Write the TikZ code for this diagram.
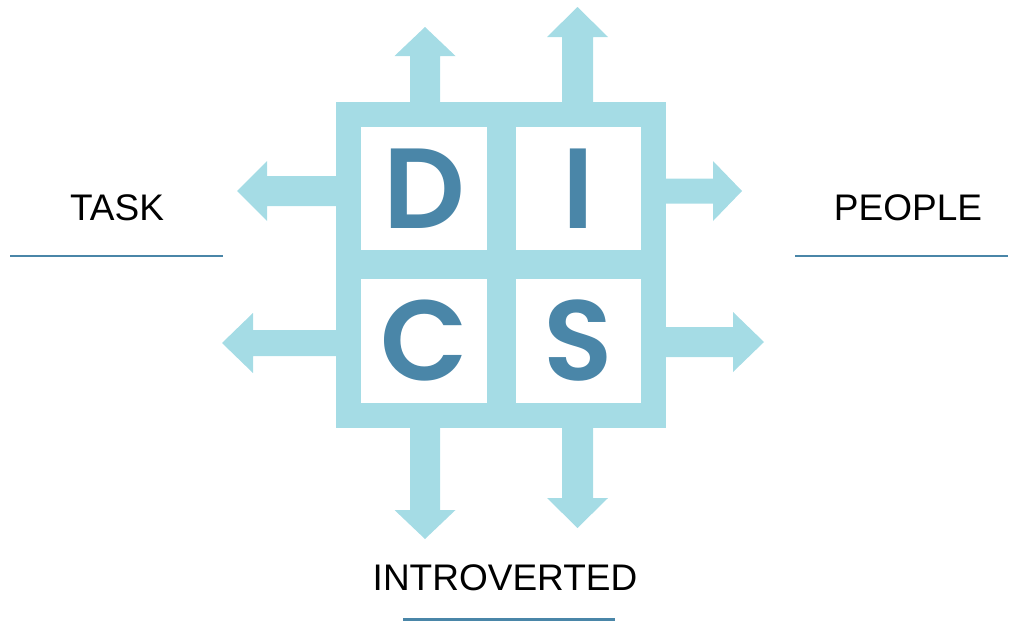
\documentclass[tikz,border=0pt]{standalone}
\usepackage{fontspec}
\setmainfont{Liberation Sans}
\newfontfamily\discfont{Poppins SemiBold}
\definecolor{discsky}{HTML}{A5DCE5}
\definecolor{discblue}{HTML}{4A86A8}
\tikzset{
    cell/.style={fill=white, inner sep=0pt, text=discblue, font=\discfont\fontsize{114}{114}\selectfont},
    label/.style={inner sep=0pt, font=\fontsize{37}{37}\selectfont},
    rule/.style={discblue, line width=2.5pt}
}
\begin{document}
\begin{tikzpicture}[x=1pt, y=-1pt]

            % the frame
            \useasboundingbox (0, 0) rectangle (1009, 621);
            \fill[discsky] (336, 102) rectangle (666, 428);

            % the arrows, up and down
            \foreach \c/\s/\h/\a/\b/\t in {425/15/30.5/102/56/27, 577.5/15.5/30.5/102/37/7, 425/15/30.5/428/510/539, 577.5/15.5/30.5/428/498/528} {
                \fill[discsky] ({\c-\s}, \a) -- ({\c-\s}, \b) -- ({\c-\h}, \b) -- (\c, \t) -- ({\c+\h}, \b) -- ({\c+\s}, \b) -- ({\c+\s}, \a) -- cycle;
            };

            % the arrows, left and right
            \foreach \c/\s/\h/\a/\b/\t in {191/15/30/336/267/237, 343/13/30/336/253/222, 191/12.5/30/666/713/742, 342/15/30/666/733/764} {
                \fill[discsky] (\a, {\c-\s}) -- (\b, {\c-\s}) -- (\b, {\c-\h}) -- (\t, \c) -- (\b, {\c+\h}) -- (\b, {\c+\s}) -- (\a, {\c+\s}) -- cycle;
            };

            % the letters
            \node[cell, minimum width=126pt, minimum height=123pt] (d) at (424, 188.5) {D};
            \node[cell, minimum width=125pt, minimum height=123pt] (i) at (578.5, 188.5) {I};
            \node[cell, minimum width=126pt, minimum height=124pt] (c) at (424, 341) {C};
            \node[cell, minimum width=125pt, minimum height=124pt] (s) at (578.5, 341) {S};

            % the labels
            \node[label] (task) at (117, 208) {TASK};
            \node[label] (people) at (908, 208) {PEOPLE};
            \node[label] (introverted) at (505, 578) {INTROVERTED};
            \draw[rule] (10, 256) -- (223, 256);
            \draw[rule] (795, 256) -- (1008, 256);
            \draw[rule] (403, 619.5) -- (615, 619.5);
        \end{tikzpicture}
\end{document}
